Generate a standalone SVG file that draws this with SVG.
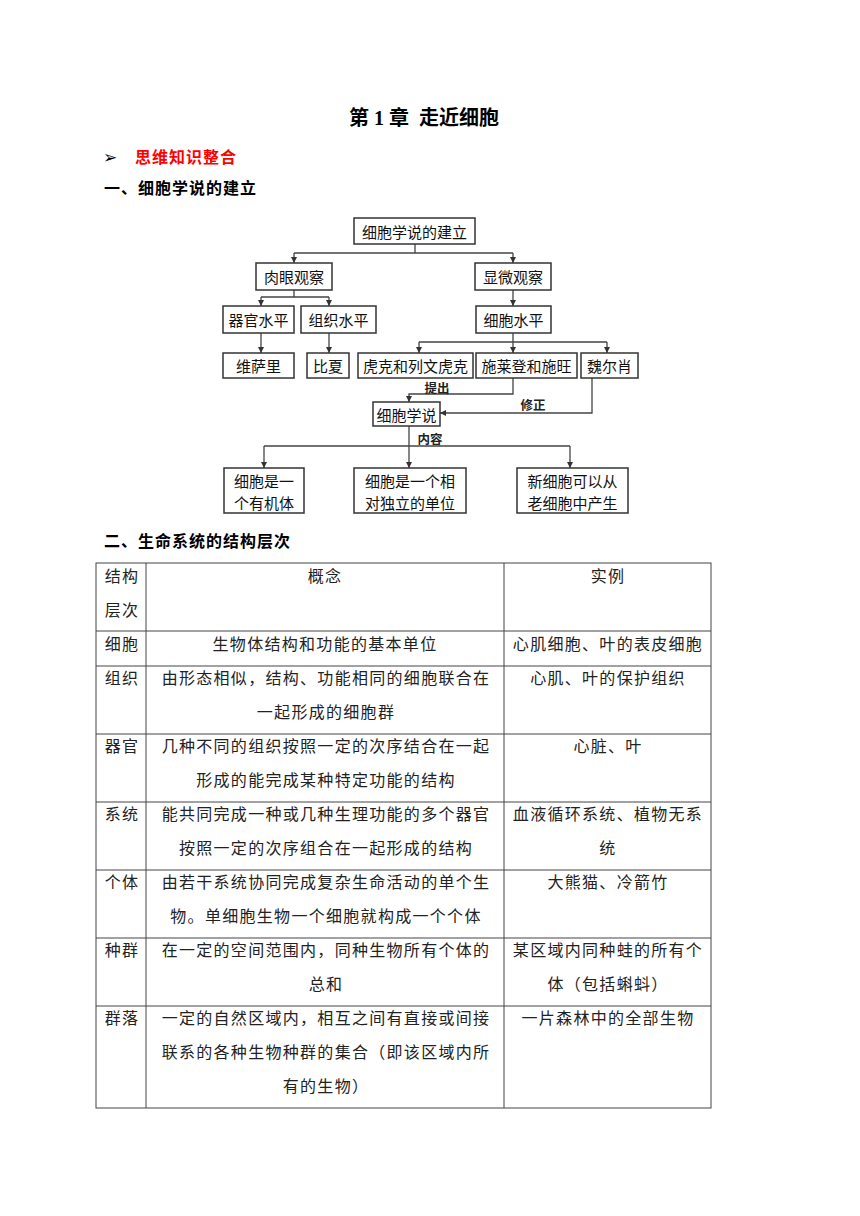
<svg xmlns="http://www.w3.org/2000/svg" width="860" height="1216" viewBox="0 0 860 1216">
<defs>
<marker id="ah" viewBox="0 0 8 8" refX="8" refY="4" markerWidth="6" markerHeight="6" orient="auto" markerUnits="userSpaceOnUse">
<path d="M0,0 L8,4 L0,8 Z" fill="#333"/>
</marker>
<style>
.box{fill:#fff;stroke:#333;stroke-width:1.5}
.bt{font-family:"Noto Sans CJK SC","Noto Sans",sans-serif;font-size:15px;fill:#111;text-anchor:middle;dominant-baseline:central}
.lbl{font-family:"Noto Sans CJK SC","Noto Sans",sans-serif;font-size:12.5px;font-weight:bold;fill:#222;text-anchor:middle;dominant-baseline:central}
.cn{fill:none;stroke:#444;stroke-width:1.3}
.ar{marker-end:url(#ah)}
.tl{stroke:#444;stroke-width:1;fill:none}
.tt{font-family:"Noto Sans CJK SC","Noto Sans",sans-serif;font-size:16px;letter-spacing:1.3px;fill:#222;text-anchor:middle;dominant-baseline:central}
.hd{font-family:"Liberation Serif","Noto Sans CJK SC",serif;font-weight:bold;fill:#000}
</style>
</defs>
<rect width="860" height="1216" fill="#fff"/>

<text class="hd" x="349" y="125" font-size="20" xml:space="preserve">第 1 章  走近细胞</text>
<text x="103" y="163" font-family="DejaVu Sans,sans-serif" font-size="17" fill="#000">➢</text>
<text class="hd" x="135" y="163" font-size="16" letter-spacing="1" style="fill:#ff0000">思维知识整合</text>
<text class="hd" x="104" y="194" font-size="16" letter-spacing="1">一、细胞学说的建立</text>
<text class="hd" x="104" y="547" font-size="16" letter-spacing="1">二、生命系统的结构层次</text>

<g id="connectors">
<path class="cn" d="M415,244 V253 M294,253 H513"/>
<path class="cn ar" d="M294,253 V263"/>
<path class="cn ar" d="M513,253 V263"/>
<path class="cn" d="M294,290 V297 M261,297 H329"/>
<path class="cn ar" d="M261,297 V306"/>
<path class="cn ar" d="M329,297 V306"/>
<path class="cn ar" d="M513,290 V306"/>
<path class="cn ar" d="M261,333 V353"/>
<path class="cn ar" d="M329,333 V353"/>
<path class="cn" d="M513,333 V342 M419,342 H607"/>
<path class="cn ar" d="M419,342 V353"/>
<path class="cn ar" d="M513,342 V353"/>
<path class="cn ar" d="M607,342 V353"/>
<path class="cn ar" d="M513,378 V394 H409 V402"/>
<path class="cn ar" d="M592,378 V413 H440"/>
<path class="cn ar" d="M409,426 V468"/>
<path class="cn" d="M264,446 H570"/>
<path class="cn ar" d="M264,446 V468"/>
<path class="cn ar" d="M570,446 V468"/>
<text class="lbl" x="437" y="387">提出</text>
<text class="lbl" x="533" y="404">修正</text>
<text class="lbl" x="430" y="438">内容</text>
</g>

<g id="n-root"><rect class="box" x="354" y="218" width="121" height="26"/><text class="bt" x="414.5" y="231">细胞学说的建立</text></g>
<g id="n-rouyan"><rect class="box" x="256" y="263" width="76" height="27"/><text class="bt" x="294" y="276.5">肉眼观察</text></g>
<g id="n-xianwei"><rect class="box" x="475" y="263" width="76" height="27"/><text class="bt" x="513" y="276.5">显微观察</text></g>
<g id="n-qiguan"><rect class="box" x="223" y="306" width="71" height="27"/><text class="bt" x="258.5" y="319.5">器官水平</text></g>
<g id="n-zuzhi"><rect class="box" x="301" y="306" width="75" height="27"/><text class="bt" x="338.5" y="319.5">组织水平</text></g>
<g id="n-xibao"><rect class="box" x="476" y="306" width="75" height="27"/><text class="bt" x="513.5" y="319.5">细胞水平</text></g>
<g id="n-weisali"><rect class="box" x="223" y="353" width="71" height="25"/><text class="bt" x="258.5" y="365.5">维萨里</text></g>
<g id="n-bixia"><rect class="box" x="307" y="353" width="42" height="25"/><text class="bt" x="328" y="365.5">比夏</text></g>
<g id="n-huke"><rect class="box" x="358" y="353" width="115" height="25"/><text class="bt" x="415.5" y="365.5">虎克和列文虎克</text></g>
<g id="n-shilaideng"><rect class="box" x="476" y="353" width="101" height="25"/><text class="bt" x="526.5" y="365.5">施莱登和施旺</text></g>
<g id="n-weierxiao"><rect class="box" x="581" y="353" width="57" height="25"/><text class="bt" x="609.5" y="365.5">魏尔肖</text></g>
<g id="n-xueshuo"><rect class="box" x="373" y="402" width="67" height="24"/><text class="bt" x="406.5" y="414">细胞学说</text></g>
<g id="n-c1"><rect class="box" x="224" y="468" width="80" height="45"/><text class="bt" x="264" y="480">细胞是一</text><text class="bt" x="264" y="502">个有机体</text></g>
<g id="n-c2"><rect class="box" x="354" y="468" width="112" height="45"/><text class="bt" x="410" y="480">细胞是一个相</text><text class="bt" x="410" y="502">对独立的单位</text></g>
<g id="n-c3"><rect class="box" x="517" y="468" width="111" height="45"/><text class="bt" x="572.5" y="480">新细胞可以从</text><text class="bt" x="572.5" y="502">老细胞中产生</text></g>

<g id="table">
<rect class="tl" x="96" y="563" width="615" height="545"/>
<path class="tl" d="M146,563 V1108 M504,563 V1108 M96,631 H711 M96,666 H711 M96,734 H711 M96,802 H711 M96,870 H711 M96,938 H711 M96,1006 H711"/>
<g class="tt">
<text x="122" y="575">结构</text><text x="122" y="609">层次</text>
<text x="325" y="575">概念</text><text x="608" y="575">实例</text>
<text x="122" y="643">细胞</text><text x="325" y="643">生物体结构和功能的基本单位</text><text x="608" y="643">心肌细胞、叶的表皮细胞</text>
<text x="122" y="677">组织</text><text x="326" y="677">由形态相似，结构、功能相同的细胞联合在</text><text x="326" y="711">一起形成的细胞群</text><text x="608" y="677">心肌、叶的保护组织</text>
<text x="122" y="745">器官</text><text x="326" y="745">几种不同的组织按照一定的次序结合在一起</text><text x="326" y="779">形成的能完成某种特定功能的结构</text><text x="608" y="745">心脏、叶</text>
<text x="122" y="813">系统</text><text x="326" y="813">能共同完成一种或几种生理功能的多个器官</text><text x="326" y="847">按照一定的次序组合在一起形成的结构</text><text x="608" y="813">血液循环系统、植物无系</text><text x="608" y="847">统</text>
<text x="122" y="881">个体</text><text x="326" y="881">由若干系统协同完成复杂生命活动的单个生</text><text x="326" y="915">物。单细胞生物一个细胞就构成一个个体</text><text x="608" y="881">大熊猫、冷箭竹</text>
<text x="122" y="949">种群</text><text x="326" y="949">在一定的空间范围内，同种生物所有个体的</text><text x="326" y="983">总和</text><text x="608" y="949">某区域内同种蛙的所有个</text><text x="608" y="983">体（包括蝌蚪）</text>
<text x="122" y="1017">群落</text><text x="326" y="1017">一定的自然区域内，相互之间有直接或间接</text><text x="326" y="1051">联系的各种生物种群的集合（即该区域内所</text><text x="326" y="1085">有的生物）</text><text x="608" y="1017">一片森林中的全部生物</text>
</g>
</g>
</svg>
